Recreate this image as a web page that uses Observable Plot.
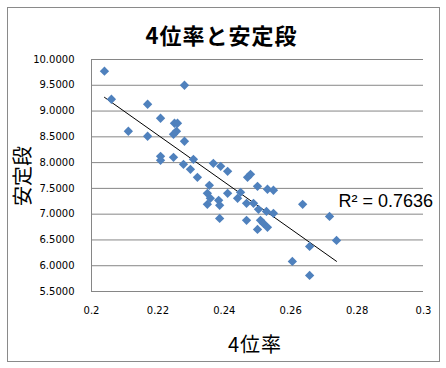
<!DOCTYPE html>
<html>
<head>
<meta charset="utf-8">
<script src="https://cdn.jsdelivr.net/npm/d3@7"></script>
<script src="https://cdn.jsdelivr.net/npm/@observablehq/plot@0.6"></script>
<style>
  html, body { margin: 0; padding: 0; background: #fff; }
  #wrap { position: relative; width: 446px; height: 368px; overflow: hidden; }
  #border { position: absolute; left: 7px; top: 7px; width: 431px; height: 353px; border: 1px solid #8a8a8a; box-sizing: content-box; }
  #title { position: absolute; left: 0; width: 443px; top: 19px; text-align: center;
    font-family: "Noto Sans CJK JP", sans-serif; font-weight: bold; font-size: 22px; letter-spacing: 1px; color: #000; line-height: 30px; }
  #xlabel { position: absolute; left: 0; width: 510px; top: 331px; text-align: center;
    font-family: "Noto Sans CJK JP", sans-serif; font-size: 20px; letter-spacing: 1px; color: #000; line-height: 26px; }
  #ylabel { position: absolute; left: 22px; top: 176px; transform: translate(-50%, -50%) rotate(-90deg);
    font-family: "Noto Sans CJK JP", sans-serif; font-size: 20px; color: #000; white-space: nowrap; line-height: 24px; }
  #chart { position: absolute; left: 0; top: 0; }
</style>
</head>
<body>
<div id="wrap">
  <div id="border"></div>
  <div id="chart"></div>
  <div id="title">4位率と安定段</div>
  <div id="xlabel">4位率</div>
  <div id="ylabel">安定段</div>
</div>
<script>
// 4位率 (x) values
const rate4 = [
  0.2039, 0.2060, 0.2280, 0.2169, 0.2208, 0.2250, 0.2259, 0.2111, 0.2169, 0.2256,
  0.2247, 0.2280, 0.2208, 0.2208, 0.2247, 0.2277, 0.2298, 0.2307, 0.2319, 0.2367,
  0.2389, 0.2410, 0.2470, 0.2479, 0.2500, 0.2530, 0.2548, 0.2355, 0.2349, 0.2358,
  0.2349, 0.2383, 0.2386, 0.2410, 0.2440, 0.2449, 0.2467, 0.2488, 0.2503, 0.2527,
  0.2548, 0.2386, 0.2467, 0.2509, 0.2518, 0.2530, 0.2500, 0.2636, 0.2717, 0.2738,
  0.2657, 0.2605, 0.2657
];
// 安定段 (y) values
const stableDan = [
  9.773, 9.229, 9.501, 9.132, 8.860, 8.763, 8.763, 8.608, 8.511, 8.608,
  8.550, 8.414, 8.122, 8.045, 8.103, 7.967, 7.870, 8.064, 7.715, 7.986,
  7.928, 7.831, 7.715, 7.773, 7.540, 7.483, 7.464, 7.559, 7.404, 7.307,
  7.190, 7.268, 7.171, 7.404, 7.307, 7.423, 7.210, 7.210, 7.093, 7.054,
  7.016, 6.918, 6.880, 6.880, 6.821, 6.744, 6.705, 7.190, 6.957, 6.491,
  6.375, 6.083, 5.812
];
const yTicks = [5.5, 6, 6.5, 7, 7.5, 8, 8.5, 9, 9.5, 10];
const xTicks = [0.2, 0.22, 0.24, 0.26, 0.28, 0.3];
const r2Label = "R² = 0.7636";

const data = rate4.map((x, i) => ({x, y: stableDan[i]}));

// least squares trend line
const n = data.length;
const mx = d3.mean(rate4), my = d3.mean(stableDan);
const sxy = d3.sum(data, d => (d.x - mx) * (d.y - my));
const sxx = d3.sum(data, d => (d.x - mx) ** 2);
const slope = sxy / sxx, icpt = my - slope * mx;
const xMin = d3.min(rate4), xMax = d3.max(rate4);
const trend = [{x: xMin, y: icpt + slope * xMin}, {x: xMax, y: icpt + slope * xMax}];

const grid = "#868686";
const plot = Plot.plot({
  width: 446,
  height: 368,
  marginLeft: 91,
  marginRight: 23,
  marginTop: 59,
  marginBottom: 77,
  style: {fontFamily: "DejaVu Sans, sans-serif", fontSize: "10px", color: "#000", background: "transparent"},
  x: {domain: [0.2, 0.3]},
  y: {domain: [5.5, 10]},
  marks: [
    Plot.ruleY(yTicks.filter(v => v > 5.5), {stroke: grid, strokeWidth: 1}),
    Plot.ruleY([5.5], {stroke: grid, strokeWidth: 1}),
    Plot.ruleX([0.2], {stroke: grid, strokeWidth: 1}),
    Plot.axisY({ticks: yTicks, tickFormat: d3.format(".4f"), tickSize: 0, tickPadding: 17, label: null, fontSize: 10}),
    Plot.axisX({ticks: xTicks, tickFormat: d => String(+d.toFixed(2)), tickSize: 0, tickPadding: 15, label: null, fontSize: 10}),
    Plot.line(trend, {x: "x", y: "y", stroke: "#000", strokeWidth: 1}),
    Plot.dot(data, {x: "x", y: "y", symbol: "diamond2", r: 4.2, fill: "#4F81BD", stroke: "none"}),
    Plot.text([r2Label], {frameAnchor: "top-left", dx: 338 - 91, dy: 194 - 59, text: d => d, fontFamily: "Liberation Sans, sans-serif", fontSize: 18, textAnchor: "start", fill: "#000"})
  ]
});
document.getElementById("chart").appendChild(plot);
</script>
</body>
</html>
